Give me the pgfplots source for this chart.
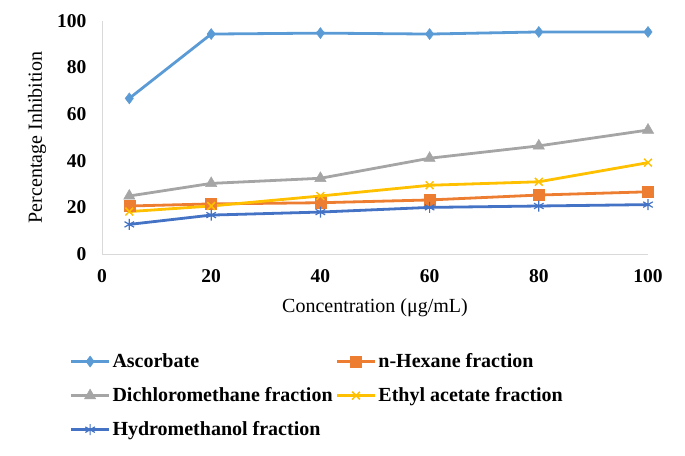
\documentclass[border=0pt]{standalone}
\usepackage{fontspec}
\setmainfont{Liberation Serif}
\usepackage{pgfplots}
\pgfplotsset{compat=1.18}
\definecolor{cA}{HTML}{5B9BD5}
\definecolor{cB}{HTML}{ED7D31}
\definecolor{cC}{HTML}{A5A5A5}
\definecolor{cD}{HTML}{FFC000}
\definecolor{cE}{HTML}{4472C4}
\begin{document}
\begin{tikzpicture}
\useasboundingbox (0,0) rectangle (685pt,455pt);
\begin{axis}[
  at={(102pt,201pt)}, anchor=south west,
  width=546pt, height=233pt, scale only axis,
  xmin=0, xmax=100, ymin=0, ymax=100,
  xtick={0,20,40,60,80,100}, ytick={0,20,40,60,80,100},
  axis x line=bottom, axis y line=left,
  axis line style={-, draw=black!15, line width=0.9pt},
  major tick length=0pt,
  /pgf/number format/assume math mode=true,
  tick label style={font=\fontsize{19.5}{22}\selectfont\bfseries},
  yticklabel style={xshift=-12pt},
  xticklabel style={yshift=-12pt},
  label style={font=\fontsize{20}{24}\selectfont},
  xlabel={Concentration (μg/mL)},
  ylabel={Percentage Inhibition},
  xlabel style={at={(axis description cs:0.5,-0.232)}, anchor=center},
  ylabel style={at={(axis description cs:-0.119,0.5)}, anchor=center, rotate=0},
  legend columns=2,
  legend style={at={(axis description cs:-0.065,-0.41)}, anchor=north west, draw=none,
    font=\fontsize{20}{24}\selectfont\bfseries, cells={anchor=west},
    row sep=14.5pt, /tikz/every even column/.append style={column sep=1pt}},
  legend image code/.code={\draw[#1, line width=2.8pt, mark repeat=2, mark phase=2] plot coordinates {(0pt,0pt)(19pt,0pt)(38pt,0pt)};},
  every axis plot/.append style={line width=2.8pt, mark options={solid}},
]
\addplot[color=cA, mark=diamond*, mark size=5.5pt, mark options={fill=cA, draw=cA, line width=0.5pt}] coordinates {(5,66.8)(20,94.4)(40,94.8)(60,94.4)(80,95.3)(100,95.3)};
\addlegendentry{Ascorbate}
\addplot[color=cB, mark=square*, mark size=5.5pt, mark options={fill=cB, draw=cB, line width=0.5pt}] coordinates {(5,20.6)(20,21.5)(40,22.0)(60,23.2)(80,25.3)(100,26.7)};
\addlegendentry{n-Hexane fraction}
\addplot[color=cC, mark=triangle*, mark size=6.5pt, mark options={fill=cC, draw=cC, line width=0.5pt}] coordinates {(5,24.9)(20,30.3)(40,32.5)(60,41.1)(80,46.4)(100,53.2)};
\addlegendentry{Dichloromethane fraction}
\addplot[color=cD, mark=x, mark size=5.5pt, mark options={draw=cD, line width=1.5pt}] coordinates {(5,18.2)(20,20.6)(40,24.9)(60,29.5)(80,31.0)(100,39.2)};
\addlegendentry{Ethyl acetate fraction}
\addplot[color=cE, mark=asterisk, mark size=5.5pt, mark options={draw=cE, line width=1.2pt}] coordinates {(5,12.7)(20,16.7)(40,18.0)(60,20.0)(80,20.6)(100,21.2)};
\addlegendentry{Hydromethanol fraction}
\end{axis}
\end{tikzpicture}
\end{document}
